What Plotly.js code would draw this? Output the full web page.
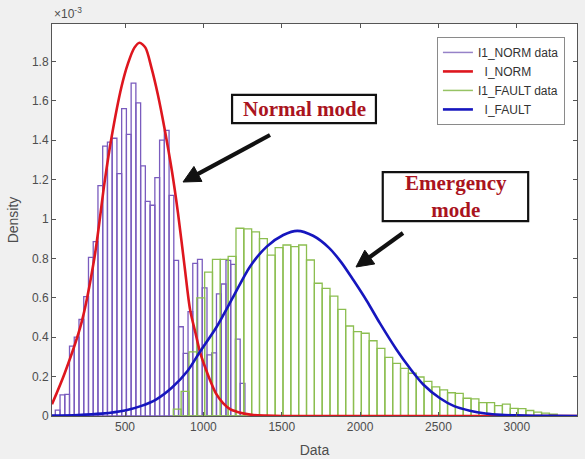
<!DOCTYPE html>
<html>
<head>
<meta charset="utf-8">
<script src="https://cdn.plot.ly/plotly-3.0.1.min.js"></script>
<style>
  html, body { margin: 0; padding: 0; background: #f0f0f0; }
  #chart { width: 585px; height: 459px; }
</style>
</head>
<body>
<div id="chart"></div>
<script>
// ---- data (density values in units of 1e-3) ----
const normBinStart = 55;
const normBinWidth = 30.25;
const normDensity = [
  0.03, 0.107, 0.11, 0.355, 0.40, 0.49, 0.606, 0.805, 0.885, 1.17,
  1.37, 1.39, 1.41, 1.23, 1.56, 1.43, 1.69, 1.59, 1.27, 1.09,
  1.07, 1.21, 1.40, 1.45, 1.12, 0.79, 0.453, 0.318, 0.53, 0.775,
  0.795, 0.65, 0.31, 0.32, 0.62, 0.67, 0.79, 0.77, 0.39, 0.166
];

const faultBinStart = 808;
const faultBinWidth = 50;
const faultDensity = [
  0.035, 0.125, 0.326, 0.60, 0.73, 0.795, 0.795, 0.81, 0.953, 0.95,
  0.935, 0.90, 0.817, 0.855, 0.868, 0.86, 0.868, 0.792, 0.674, 0.648,
  0.609, 0.541, 0.457, 0.428, 0.42, 0.382, 0.343, 0.298, 0.267, 0.242,
  0.217, 0.198, 0.176, 0.148, 0.133, 0.118, 0.115, 0.09, 0.087, 0.068,
  0.068, 0.053, 0.06, 0.039, 0.037, 0.028, 0.02, 0.015, 0.009
];

const normFitX = [34, 115, 221, 306, 370, 413, 477, 519, 560, 592, 630, 668, 710, 752, 800, 838, 880, 915, 950, 978, 1010, 1042, 1080, 1127, 1170, 1212, 1260, 1320, 1400, 1500, 2000, 2500, 3000, 3384];
const normFitY = [0.06, 0.217, 0.47, 0.81, 1.19, 1.41, 1.67, 1.79, 1.87, 1.895, 1.87, 1.77, 1.63, 1.46, 1.24, 1.03, 0.76, 0.54, 0.42, 0.326, 0.25, 0.183, 0.115, 0.064, 0.035, 0.022, 0.012, 0.005, 0.002, 0, 0, 0, 0, 0];

const faultFitX = [34, 200, 350, 500, 600, 700, 800, 900, 978, 1085, 1191, 1297, 1404, 1510, 1600, 1700, 1800, 1880, 1957, 2042, 2127, 2234, 2318, 2403, 2510, 2600, 2700, 2800, 2900, 3000, 3200, 3384];
const faultFitY = [0.002, 0.005, 0.012, 0.028, 0.05, 0.085, 0.145, 0.23, 0.326, 0.453, 0.606, 0.758, 0.86, 0.919, 0.94, 0.915, 0.855, 0.78, 0.69, 0.585, 0.47, 0.335, 0.242, 0.16, 0.09, 0.05, 0.027, 0.013, 0.006, 0.003, 0.0005, 0];

const seriesNames = ['I1_NORM data', '\u00a0\u00a0I_NORM', 'I1_FAULT data', '\u00a0\u00a0I_FAULT'];
const xTickVals = [500, 1000, 1500, 2000, 2500, 3000];
const yTickVals = [0, 0.2, 0.4, 0.6, 0.8, 1, 1.2, 1.4, 1.6, 1.8];
const yTickText = ['0', '0.2', '0.4', '0.6', '0.8', '1', '1.2', '1.4', '1.6', '1.8'];

// ---- colours ----
const cPurple = 'rgb(122,92,190)';
const cGreen = 'rgb(140,190,80)';
const cRed = 'rgb(222,22,30)';
const cBlue = 'rgb(22,22,190)';

const normCenters = normDensity.map((_, i) => normBinStart + normBinWidth * (i + 0.5));
const faultCenters = faultDensity.map((_, i) => faultBinStart + faultBinWidth * (i + 0.5));

const traces = [
  { type: 'bar', x: normCenters, y: normDensity, width: normBinWidth, showlegend: false,
    marker: { color: 'rgba(255,255,255,0)', line: { color: cPurple, width: 1.3 } }, hoverinfo: 'skip' },
  { type: 'bar', x: faultCenters, y: faultDensity, width: faultBinWidth, showlegend: false,
    marker: { color: 'rgba(255,255,255,0)', line: { color: cGreen, width: 1.3 } }, hoverinfo: 'skip' },
  { type: 'scatter', mode: 'lines', x: normFitX, y: normFitY, showlegend: false,
    line: { color: cRed, width: 2.6, shape: 'spline', smoothing: 0.8 } },
  { type: 'scatter', mode: 'lines', x: faultFitX, y: faultFitY, showlegend: false,
    line: { color: cBlue, width: 2.6, shape: 'spline', smoothing: 0.8 } },
  // legend entries
  { type: 'scatter', mode: 'lines', x: [null], y: [null], name: seriesNames[0], line: { color: 'rgb(150,130,200)', width: 1.5 } },
  { type: 'scatter', mode: 'lines', x: [null], y: [null], name: seriesNames[1], line: { color: cRed, width: 2.6 } },
  { type: 'scatter', mode: 'lines', x: [null], y: [null], name: seriesNames[2], line: { color: 'rgb(150,195,100)', width: 1.5 } },
  { type: 'scatter', mode: 'lines', x: [null], y: [null], name: seriesNames[3], line: { color: cBlue, width: 2.6 } }
];

// plot-area pixel geometry, used only to place the decorative arrows
const PL = 52, PR = 577, PT = 24, PB = 416;
const toPx = (x) => (x - PL) / (PR - PL);
const toPy = (y) => (PB - y) / (PB - PT);
function arrowShapes(tail, tip) {
  const dx = tip[0] - tail[0], dy = tip[1] - tail[1];
  const len = Math.hypot(dx, dy);
  const ux = dx / len, uy = dy / len;
  const hl = 17, hw = 8.5;
  const bx = tip[0] - hl * ux, by = tip[1] - hl * uy;
  const nx = -uy, ny = ux;
  const p1 = [bx + hw * nx, by + hw * ny], p2 = [bx - hw * nx, by - hw * ny];
  const path = `M ${toPx(tip[0])} ${toPy(tip[1])} L ${toPx(p1[0])} ${toPy(p1[1])} L ${toPx(p2[0])} ${toPy(p2[1])} Z`;
  return [
    { type: 'line', xref: 'paper', yref: 'paper', x0: toPx(tail[0]), y0: toPy(tail[1]),
      x1: toPx(bx + 2 * ux), y1: toPy(by + 2 * uy), line: { color: '#111', width: 4.2 }, layer: 'above' },
    { type: 'path', xref: 'paper', yref: 'paper', path: path, fillcolor: '#111',
      line: { color: '#111', width: 1 }, layer: 'above' }
  ];
}

const fontFam = 'Liberation Sans, Arial, sans-serif';
const boxFont = { family: 'Liberation Serif, Times New Roman, serif', size: 21, color: 'rgb(170,20,30)' };

const layout = {
  width: 585, height: 459,
  margin: { l: 52, r: 8, t: 24, b: 43, pad: 0 },
  paper_bgcolor: '#f0f0f0',
  plot_bgcolor: '#ffffff',
  barmode: 'overlay',
  bargap: 0,
  font: { family: fontFam, size: 12, color: '#4d4d4d' },
  xaxis: {
    range: [34, 3384], tickvals: xTickVals, ticks: 'inside', ticklen: 4, tickwidth: 1,
    tickcolor: '#555', showline: true, linecolor: '#555', linewidth: 1, mirror: 'ticks',
    showgrid: false, zeroline: false, tickfont: { size: 12, color: '#4d4d4d' },
    title: { text: 'Data', font: { size: 14, color: '#4d4d4d' }, standoff: 11 }
  },
  yaxis: {
    range: [0, 1.99], tickvals: yTickVals, ticktext: yTickText, ticks: 'inside', ticklen: 4, tickwidth: 1,
    tickcolor: '#555', showline: true, linecolor: '#555', linewidth: 1, mirror: 'ticks',
    showgrid: false, zeroline: false, tickfont: { size: 12, color: '#4d4d4d' },
    title: { text: 'Density', font: { size: 14, color: '#4d4d4d' }, standoff: 10 }
  },
  legend: {
    x: 0.977, xanchor: 'right', y: 0.967, yanchor: 'top',
    bgcolor: '#ffffff', bordercolor: '#8a8a8a', borderwidth: 1,
    font: { family: fontFam, size: 12, color: '#333' },
    tracegroupgap: 0, itemwidth: 30
  },
  shapes: [
    { type: 'rect', xref: 'paper', yref: 'paper', x0: 0.343, x1: 0.617, y0: 0.747, y1: 0.819,
      line: { color: '#111', width: 2.2 }, fillcolor: '#ffffff', layer: 'above' },
    { type: 'rect', xref: 'paper', yref: 'paper', x0: 0.630, x1: 0.907, y0: 0.497, y1: 0.622,
      line: { color: '#111', width: 2.2 }, fillcolor: '#ffffff', layer: 'above' },
    ...arrowShapes([270, 135], [183, 182]),
    ...arrowShapes([403, 233], [356, 267])
  ],
  annotations: [
    { xref: 'paper', yref: 'paper', x: 0.48, y: 0.783, text: '<b>Normal mode</b>', showarrow: false,
      font: boxFont, xanchor: 'center', yanchor: 'middle' },
    { xref: 'paper', yref: 'paper', x: 0.769, y: 0.560, text: '<b>Emergency<br>mode</b>', showarrow: false,
      font: boxFont, xanchor: 'center', yanchor: 'middle' },
    { xref: 'paper', yref: 'paper', x: 0, y: 1, xanchor: 'left', yanchor: 'bottom', yshift: 1,
      text: '\u00d710<sup>-3</sup>', showarrow: false, font: { family: fontFam, size: 12, color: '#4d4d4d' } }
  ]
};

Plotly.newPlot('chart', traces, layout, { displayModeBar: false, staticPlot: true });
</script>
</body>
</html>
